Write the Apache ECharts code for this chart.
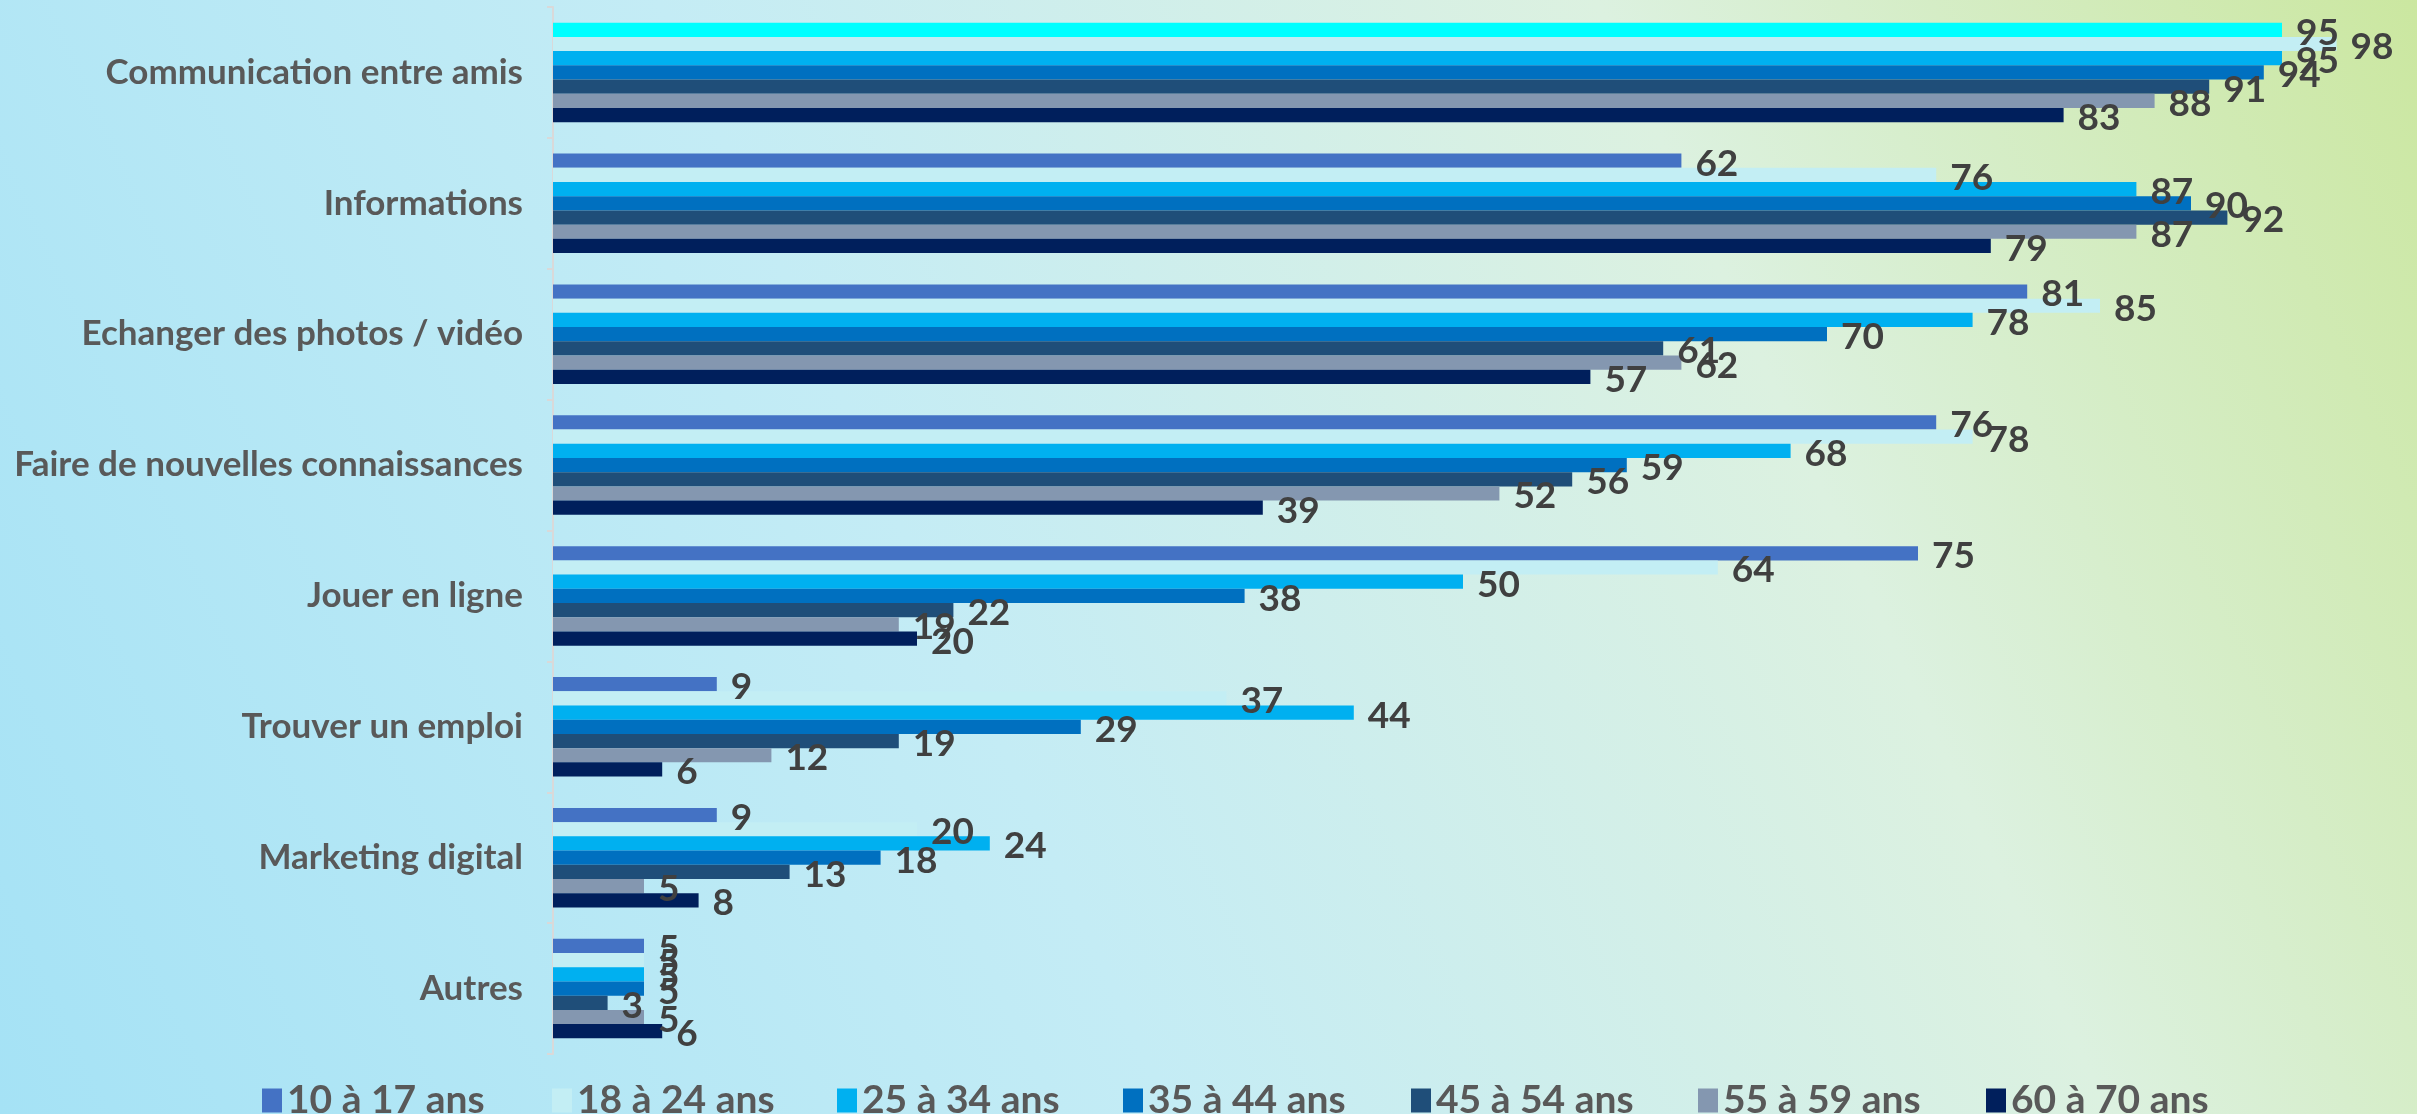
<!DOCTYPE html>
<html>
<head>
<meta charset="utf-8">
<script src="https://cdn.jsdelivr.net/npm/echarts@6/dist/echarts.min.js"></script>
<style>
  html, body { margin: 0; padding: 0; }
  #chart { width: 2417px; height: 1114px; }
</style>
</head>
<body>
<div id="chart"></div>
<script>
// catégories (de haut en bas)
const categories = [
    'Communication entre amis',
    'Informations',
    'Echanger des photos / vidéo',
    'Faire de nouvelles connaissances',
    'Jouer en ligne',
    'Trouver un emploi',
    'Marketing digital',
    'Autres'
]
// tranches d'âge
const ageGroups = ['10 à 17 ans', '18 à 24 ans', '25 à 34 ans', '35 à 44 ans', '45 à 54 ans', '55 à 59 ans', '60 à 70 ans']
const colors = ['#4472C4', '#C3EEF4', '#00B0F0', '#0070C0', '#1F4E79', '#8497B0', '#001F5C']

// valeurs (%) par tranche d'âge
const age10to17 = [95, 62, 81, 76, 75, 9, 9, 5]
const age18to24 = [98, 76, 85, 78, 64, 37, 20, 5]
const age25to34 = [95, 87, 78, 68, 50, 44, 24, 5]
const age35to44 = [94, 90, 70, 59, 38, 29, 18, 5]
const age45to54 = [91, 92, 61, 56, 22, 19, 13, 3]
const age55to59 = [88, 87, 62, 52, 19, 12, 5, 5]
const age60to70 = [83, 79, 57, 39, 20, 6, 8, 6]

const allValues = [age10to17, age18to24, age25to34, age35to44, age45to54, age55to59, age60to70]

// position horizontale de chaque entrée de légende
const legendLeft = [257, 547, 832, 1118, 1406, 1693, 1981]

let chart = echarts.init(document.getElementById('chart'))

let series = ageGroups.map((name, i) => {
    let data = allValues[i].map(v => v)
    if (i === 0) {
        // première barre mise en évidence en cyan
        data[0] = { value: allValues[i][0], itemStyle: { color: '#00FFFF' } }
    }
    return {
        name: name,
        type: 'bar',
        data: data,
        barGap: '0%',
        barCategoryGap: '24%',
        itemStyle: { color: colors[i] },
        label: {
            show: true,
            position: 'right',
            distance: 14,
            offset: [0, 3],
            color: '#404040',
            fontFamily: 'Lato',
            fontWeight: 'bold',
            fontSize: 37
        }
    }
})

// une légende par tranche pour garder un espacement régulier
let legends = ageGroups.map((name, i) => ({
    data: [name],
    left: legendLeft[i],
    top: 1076,
    itemWidth: 20,
    itemHeight: 24,
    icon: 'rect',
    textStyle: {
        color: '#595959',
        fontFamily: 'Lato',
        fontWeight: 'bold',
        fontSize: 39
    }
}))

let option = {
    backgroundColor: new echarts.graphic.LinearGradient(0, 1, 1, 0, [
        { offset: 0, color: '#a5e2f5' },
        { offset: 0.4, color: '#c4ecf5' },
        { offset: 0.72, color: '#dcf1e0' },
        { offset: 1, color: '#cbe7a0' }
    ]),
    animation: false,
    grid: {
        left: 553,
        right: 44,
        top: 7,
        bottom: 60,
        containLabel: false
    },
    legend: legends,
    xAxis: {
        type: 'value',
        min: 0,
        max: 100,
        show: false,
        splitLine: { show: false }
    },
    yAxis: {
        type: 'category',
        data: categories,
        inverse: true,
        axisLine: { show: true, lineStyle: { color: '#D9D9D9', width: 2 } },
        axisTick: { show: true, length: 6, lineStyle: { color: '#D9D9D9', width: 2 } },
        axisLabel: {
            margin: 30,
            color: '#595959',
            fontFamily: 'Lato',
            fontWeight: 'bold',
            fontSize: 35
        }
    },
    series: series
}

chart.setOption(option)
</script>
</body>
</html>
